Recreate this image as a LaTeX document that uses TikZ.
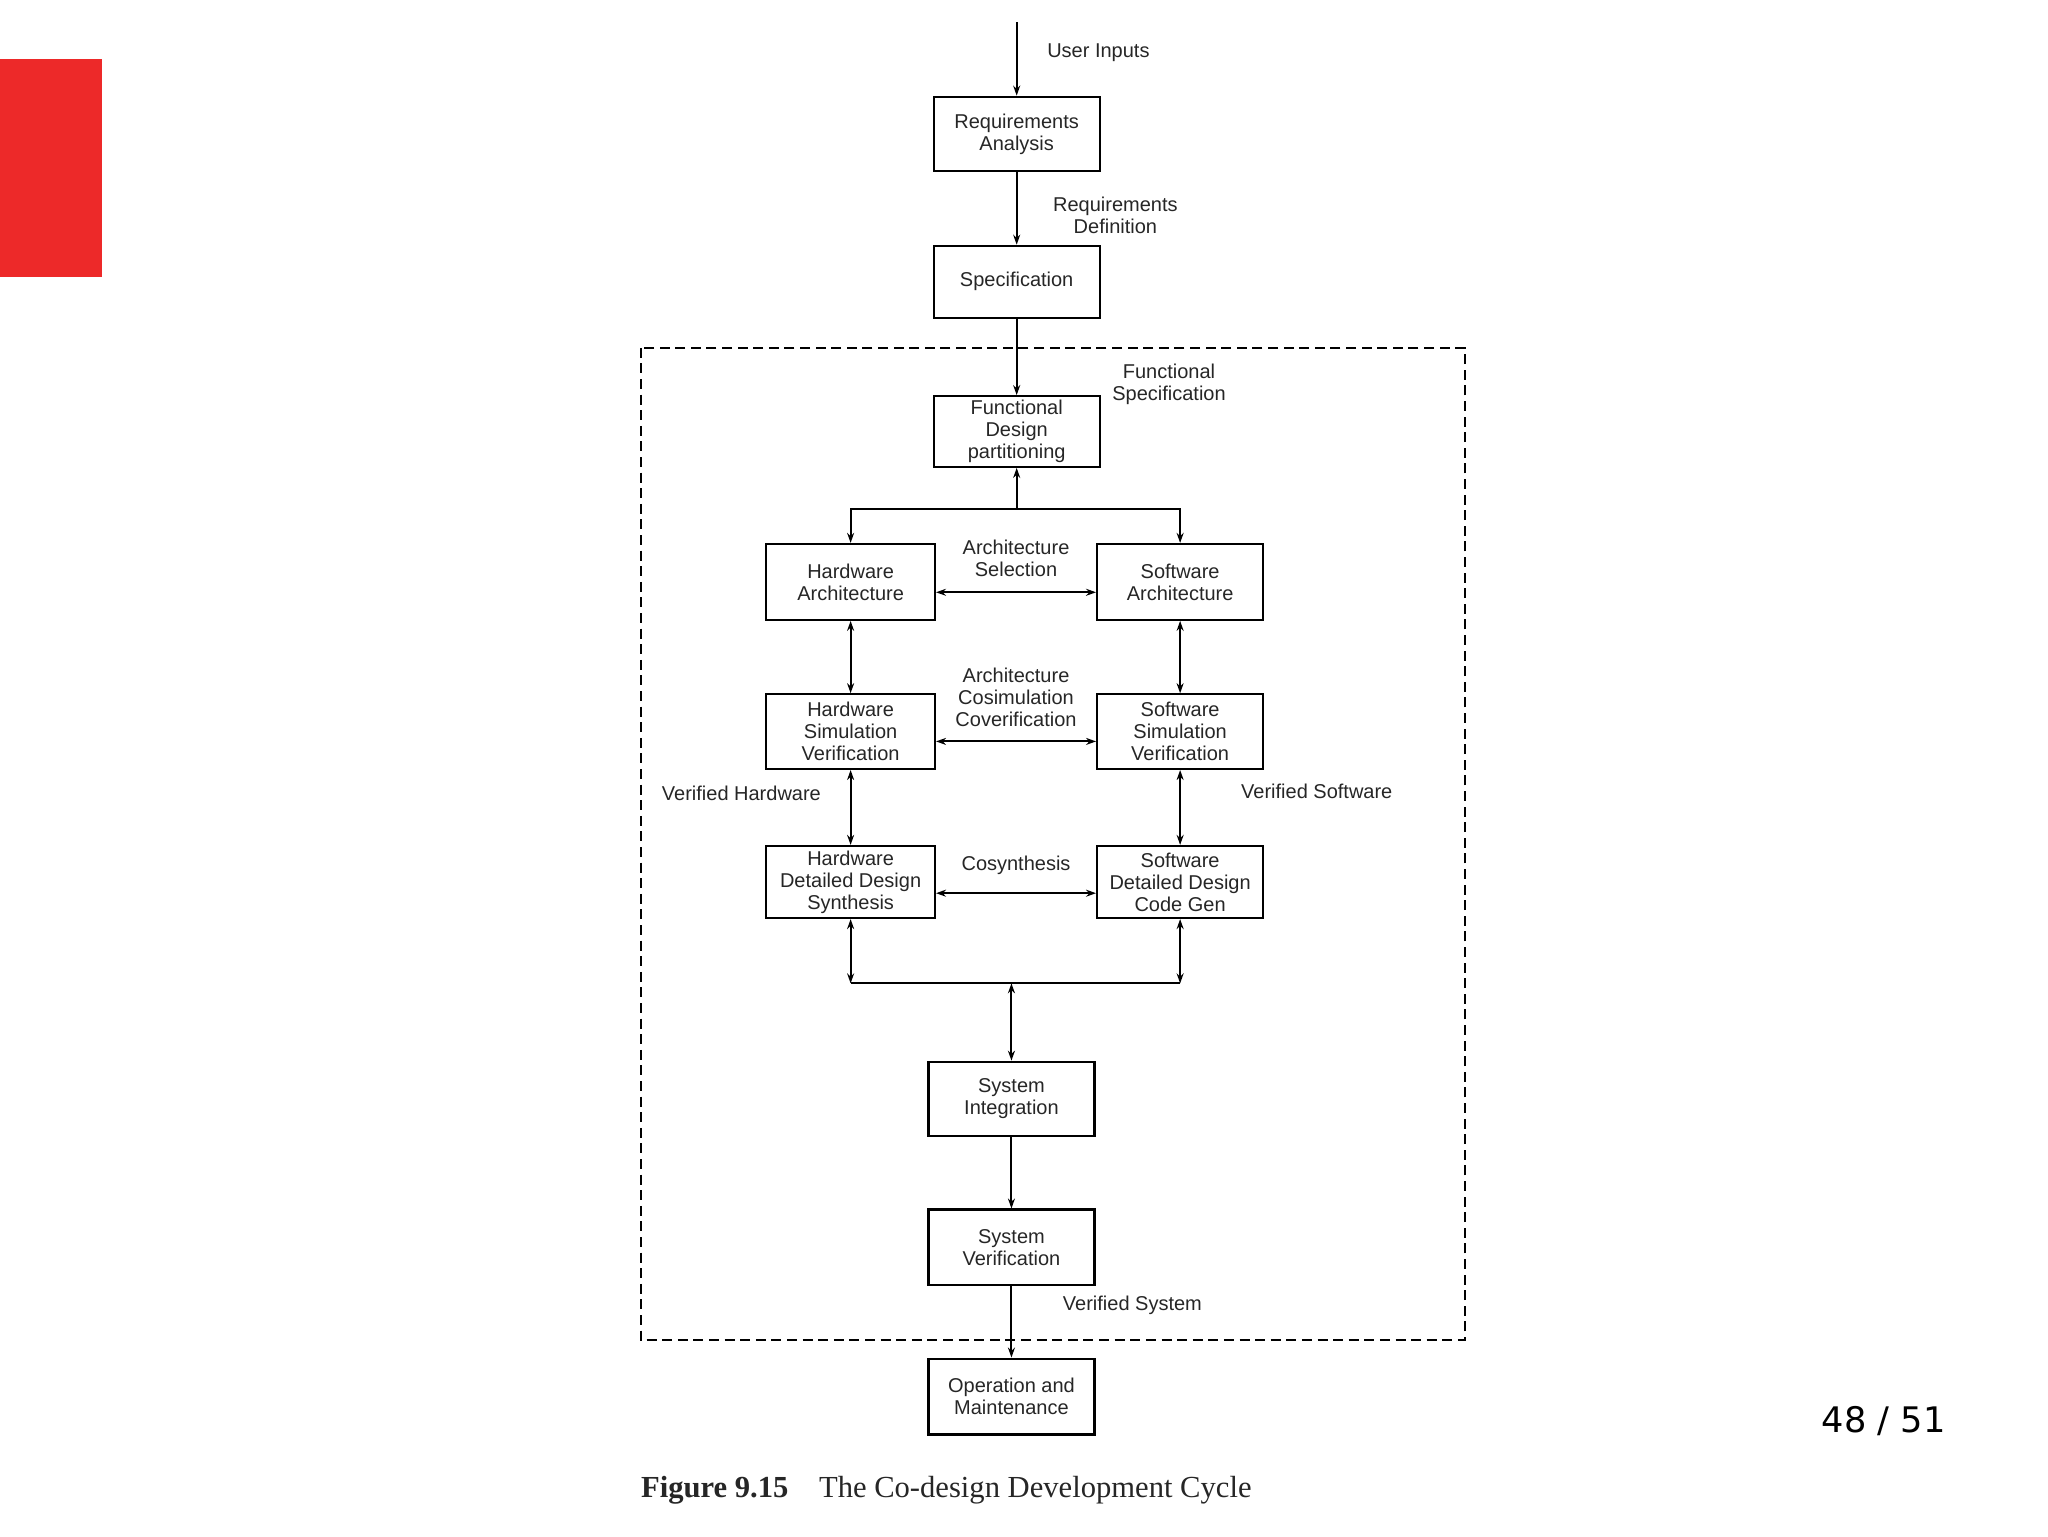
\documentclass[tikz,border=0pt]{standalone}
\usepackage{fontspec}
\setmainfont{Liberation Sans}
\newfontfamily\capfont{Liberation Serif}
\newfontfamily\pagefont{DejaVu Sans}
\usetikzlibrary{arrows.meta,calc}
\definecolor{slidered}{RGB}{237,41,41}
\begin{document}
\begin{tikzpicture}[x=0.6538pt,y=-0.6538pt,
  txt/.style={font=\fontsize{10pt}{11pt}\selectfont, text=black!85, align=center, inner sep=1pt},
  box/.style={txt, draw=black, line width=1.1pt, minimum width=83pt},
  conn/.style={line width=1pt, draw=black},
  tip/.style={-{Stealth[length=5pt,width=3.5pt]}},
  >={Stealth[length=5pt,width=3.5pt]}]
\useasboundingbox (0,0) rectangle (1566.2,1174.7);
\fill[slidered] (0,45) rectangle (78,212);

% dashed frame
\draw[line width=1pt, dash pattern=on 5pt off 2.8pt] (490,266) rectangle (1120,1025);

% boxes
\node[box, minimum height=37.3pt] (ra) at (777.5,102.5) {Requirements\\Analysis};
\node[box, minimum height=36pt] (spec) at (777.5,215.5) {Specification};
\node[box, minimum height=35.3pt] (fdp) at (777.5,330) {Functional\\Design\\partitioning};
\node[box, minimum width=84.3pt, minimum height=37.9pt] (hwa) at (650.5,445) {Hardware\\Architecture};
\node[box, minimum height=37.9pt] (swa) at (902.5,445) {Software\\Architecture};
\node[box, minimum width=84.3pt, minimum height=37.3pt] (hws) at (650.5,559.5) {Hardware\\Simulation\\Verification};
\node[box, minimum height=37.3pt] (sws) at (902.5,559.5) {Software\\Simulation\\Verification};
\node[box, minimum width=84.3pt, minimum height=36pt] (hwd) at (650.5,674.5) {Hardware\\Detailed Design\\Synthesis};
\node[box, minimum height=36pt] (swd) at (902.5,674.5) {Software\\Detailed Design\\Code Gen};
\node[box, minimum height=37.3pt] (si) at (773.5,840.5) {System\\Integration};
\node[box, minimum height=37.9pt] (sv) at (773.5,954) {System\\Verification};
\node[box, minimum height=37.9pt] (om) at (773.5,1068) {Operation and\\Maintenance};

% helper coordinates
\coordinate (top) at (777.5,17);
\coordinate (j1) at (777.5,389);
\coordinate (jl) at (650.5,752);
\coordinate (jr) at (902.5,752);
\coordinate (jm) at (773.5,752);

% connectors
\draw[conn,->] (top) -- (ra);
\draw[conn,->] (ra) -- (spec);
\draw[conn,->] (spec) -- (fdp);
\draw[conn,->] (j1) -- (fdp);
\draw[conn,->] (j1) -| (hwa);
\draw[conn,->] (j1) -| (swa);
\draw[conn,<->] ([yshift=-5.2pt]hwa.east) -- ([yshift=-5.2pt]swa.west);
\draw[conn,<->] ([yshift=-4.9pt]hws.east) -- ([yshift=-4.9pt]sws.west);
\draw[conn,<->] ([yshift=-5.6pt]hwd.east) -- ([yshift=-5.6pt]swd.west);
\draw[conn,<->] (hwa) -- (hws);
\draw[conn,<->] (swa) -- (sws);
\draw[conn,<->] (hws) -- (hwd);
\draw[conn,<->] (sws) -- (swd);
\draw[conn,<->] (hwd) -- (jl);
\draw[conn,<->] (swd) -- (jr);
\draw[conn] (jl) -- (jr);
\draw[conn,<->] (jm) -- (si);
\draw[conn,->] (si) -- (sv);
\draw[conn,->] (sv) -- (om);

% labels
\node[txt] (l1) at (840,40) {User Inputs};
\node[txt] (l2) at (853,165) {Requirements\\Definition};
\node[txt] (l3) at (894,294) {Functional\\Specification};
\node[txt] (l4) at (777,427) {Architecture\\Selection};
\node[txt] (l5) at (777,533) {Architecture\\Cosimulation\\Coverification};
\node[txt] (l6) at (567,607) {Verified Hardware};
\node[txt] (l7) at (1007,605) {Verified Software};
\node[txt] (l8) at (777,662) {Cosynthesis};
\node[txt] (l9) at (866,998) {Verified System};

% caption and page number
\node[anchor=west, inner sep=0pt, text=black!85, font=\capfont\fontsize{15.3pt}{17pt}\selectfont] (cap) at (490,1140) {\textbf{Figure 9.15}\quad The Co-design Development Cycle};
\node[inner sep=0pt, font=\pagefont\fontsize{17.6pt}{20pt}\selectfont] (pg) at (1440.5,1087) {48 / 51};
\end{tikzpicture}
\end{document}
